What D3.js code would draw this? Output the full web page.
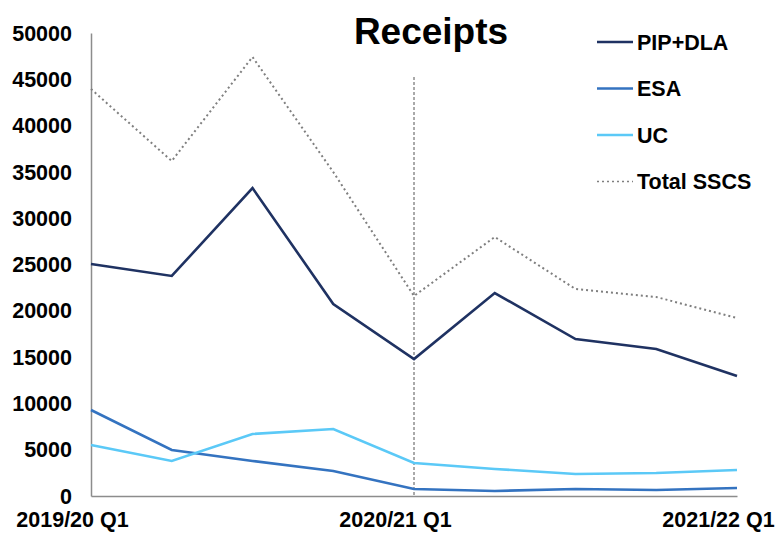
<!DOCTYPE html>
<html>
<head>
<meta charset="utf-8">
<script src="https://cdn.jsdelivr.net/npm/d3@7"></script>
<style>
  body { margin: 0; background: #fff; }
  text { font-family: "Liberation Sans", Arial, sans-serif; font-weight: bold; fill: #000; }
</style>
</head>
<body>
<div id="container"></div>
<script>
var svgWidth = 779;
var svgHeight = 534;

// data
var quarters = ['2019/20 Q1', '2019/20 Q2', '2019/20 Q3', '2019/20 Q4',
                '2020/21 Q1', '2020/21 Q2', '2020/21 Q3', '2020/21 Q4', '2021/22 Q1'];
var tickLabels = ['2019/20 Q1', '2020/21 Q1', '2021/22 Q1'];
var pipDla = [25050, 23760, 33260, 20730, 14790, 21920, 16950, 15870, 12960];
var esa = [9290, 4970, 3780, 2700, 760, 540, 760, 650, 860];
var uc = [5510, 3780, 6700, 7240, 3560, 2920, 2380, 2480, 2810];
var totalSscs = [43950, 36180, 47410, 34990, 21600, 27970, 22350, 21490, 19220];
var markerQuarter = '2020/21 Q1';

var series = [
    {name: 'PIP+DLA', values: pipDla, color: '#1f3262', dash: null, width: 2.6},
    {name: 'ESA', values: esa, color: '#3473c0', dash: null, width: 2.6},
    {name: 'UC', values: uc, color: '#5bc9f7', dash: null, width: 2.6},
    {name: 'Total SSCS', values: totalSscs, color: '#7f7f7f', dash: '2,3', width: 2}
];

var margin = {left: 91, right: 42, top: 33, bottom: 38};
var plotW = svgWidth - margin.left - margin.right;
var plotH = svgHeight - margin.top - margin.bottom;

var svg = d3.select('#container').append('svg')
    .attr('width', svgWidth)
    .attr('height', svgHeight);

var x = d3.scalePoint().domain(quarters).range([0, plotW]);
var y = d3.scaleLinear().domain([0, 50000]).range([plotH, 0]);

var g = svg.append('g')
    .attr('transform', 'translate(' + margin.left + ',' + margin.top + ')');

// y axis
var yAxis = g.append('g')
    .call(d3.axisLeft(y).tickValues(d3.range(0, 50001, 5000)).tickSize(0).tickPadding(19).tickFormat(d3.format('d')));
yAxis.select('.domain').attr('stroke', '#8c8c8c').attr('stroke-width', 1.5);
yAxis.selectAll('text').style('font-size', '21.5px').attr('dy', '0.33em');

// x axis
var xAxis = g.append('g')
    .attr('transform', 'translate(0,' + plotH + ')')
    .call(d3.axisBottom(x).tickValues(tickLabels).tickSize(0).tickPadding(16));
xAxis.select('.domain').attr('stroke', '#8c8c8c').attr('stroke-width', 1.5);
xAxis.selectAll('text').style('font-size', '21.5px').attr('dx', -19);

// vertical marker
g.append('line')
    .attr('x1', x(markerQuarter)).attr('x2', x(markerQuarter))
    .attr('y1', 44).attr('y2', plotH)
    .attr('stroke', '#555').attr('stroke-width', 1)
    .attr('stroke-dasharray', '3,2');

var line = d3.line()
    .x(function (d, i) { return x(quarters[i]); })
    .y(function (d) { return y(d); });

series.forEach(function (s) {
    g.append('path')
        .datum(s.values)
        .attr('d', line)
        .attr('fill', 'none')
        .attr('stroke', s.color)
        .attr('stroke-width', s.width)
        .attr('stroke-dasharray', s.dash);
});

// title
svg.append('text')
    .attr('x', 431).attr('y', 44)
    .attr('text-anchor', 'middle')
    .style('font-size', '37px')
    .text('Receipts');

// legend
var legend = svg.append('g').attr('transform', 'translate(597,42)');
series.forEach(function (s, i) {
    var row = legend.append('g').attr('transform', 'translate(0,' + (i * 46.5) + ')');
    row.append('line')
        .attr('x1', 0).attr('x2', 36)
        .attr('stroke', s.color)
        .attr('stroke-width', s.dash ? 1.6 : 2.4)
        .attr('stroke-dasharray', s.dash);
    row.append('text')
        .attr('x', 40).attr('dy', '0.35em')
        .style('font-size', '21.5px')
        .text(s.name);
});
</script>
</body>
</html>
